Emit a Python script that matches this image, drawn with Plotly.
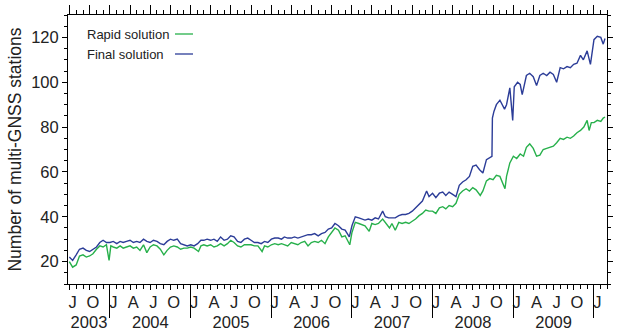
import plotly.graph_objects as go
from datetime import date, timedelta

# ---------------- data ----------------
final_dates = [
    "2003-07-01", "2003-07-16", "2003-08-01", "2003-08-16", "2003-09-01", "2003-09-16",
    "2003-10-01", "2003-10-16", "2003-11-01", "2003-11-16", "2003-12-01", "2003-12-16",
    "2004-01-01", "2004-01-16", "2004-02-01", "2004-02-16", "2004-03-01", "2004-03-16",
    "2004-04-01", "2004-04-16", "2004-05-01", "2004-05-16", "2004-06-01", "2004-06-16",
    "2004-07-01", "2004-07-16", "2004-08-01", "2004-08-16", "2004-09-01", "2004-09-16",
    "2004-10-01", "2004-10-16", "2004-11-01", "2004-11-16", "2004-12-01", "2004-12-16",
    "2005-01-01", "2005-01-16", "2005-02-01", "2005-02-16", "2005-03-01", "2005-03-16",
    "2005-04-01", "2005-04-16", "2005-05-01", "2005-05-16", "2005-06-01", "2005-06-16",
    "2005-07-01", "2005-07-16", "2005-08-01", "2005-08-16", "2005-09-01", "2005-09-16",
    "2005-10-01", "2005-10-16", "2005-11-01", "2005-11-16", "2005-12-01", "2005-12-16",
    "2006-01-01", "2006-01-16", "2006-02-01", "2006-02-16", "2006-03-01", "2006-03-16",
    "2006-04-01", "2006-04-16", "2006-05-01", "2006-05-16", "2006-06-01", "2006-06-16",
    "2006-07-01", "2006-07-16", "2006-08-01", "2006-08-16", "2006-09-01", "2006-09-16",
    "2006-10-01", "2006-10-16", "2006-11-01", "2006-11-16", "2006-12-01", "2006-12-20",
    "2007-01-01", "2007-01-16", "2007-02-01", "2007-02-16", "2007-03-01", "2007-03-16",
    "2007-04-01", "2007-04-16", "2007-05-01", "2007-05-20", "2007-06-01", "2007-06-16",
    "2007-07-01", "2007-07-16", "2007-08-01", "2007-08-16", "2007-09-01", "2007-09-16",
    "2007-10-01", "2007-10-16", "2007-11-01", "2007-11-16", "2007-12-05", "2007-12-16",
    "2008-01-01", "2008-01-16", "2008-02-01", "2008-02-16", "2008-03-01", "2008-03-16",
    "2008-04-01", "2008-04-16", "2008-05-01", "2008-05-16", "2008-06-01", "2008-06-16",
    "2008-07-01", "2008-07-16", "2008-08-01", "2008-08-16", "2008-09-01", "2008-09-16",
    "2008-09-26", "2008-09-28", "2008-10-05", "2008-10-16", "2008-11-01", "2008-11-22",
    "2008-12-01", "2008-12-16", "2008-12-29", "2009-01-05", "2009-01-20", "2009-02-01",
    "2009-02-10", "2009-03-01", "2009-03-16", "2009-04-01", "2009-04-16", "2009-05-01",
    "2009-05-16", "2009-06-01", "2009-06-16", "2009-07-01", "2009-07-16", "2009-08-01",
    "2009-08-16", "2009-09-01", "2009-09-16", "2009-10-01", "2009-10-16", "2009-11-01",
    "2009-11-14", "2009-12-01", "2009-12-16", "2010-01-01", "2010-01-16", "2010-02-01",
    "2010-02-12", "2010-02-20",
]
final_values = [
    22, 20.5, 23, 25.5, 26, 25,
    24.5, 25.5, 26.5, 28.5, 29.5, 28.5,
    28.5, 29, 28, 29, 28.5, 29,
    29.5, 28.5, 29, 28.5, 30, 29,
    28.5, 29.5, 29, 28, 27.5, 29,
    30, 29.5, 30, 28, 27.5, 27,
    27.5, 27, 28, 29.5, 29.5, 30,
    29.5, 30, 29, 31, 29.5, 30,
    31.5, 31, 29, 28.5, 30, 30.5,
    29.5, 28.5, 28.5, 28, 29, 28.5,
    30, 30.5, 30.5, 30, 31, 30.5,
    30.5, 31, 30.5, 31, 31.5, 32,
    32, 32.5, 31.5, 32.5, 33, 34.5,
    35, 37, 36, 34.5, 34, 31,
    36, 40, 39.5, 39, 38.5, 39,
    38.5, 39.5, 39, 42.5, 40, 39.5,
    39.5, 39.5, 40.5, 41, 41, 41.5,
    42.5, 44, 45.5, 47, 51.5, 49,
    50.5, 48.5, 50.5, 51, 49.5, 51,
    50, 49, 54, 55.5, 56.5, 58,
    62.5, 63, 61, 59.5, 65.5, 66.5,
    67, 84, 87, 90, 92, 88,
    90, 97.5, 83, 98, 100, 99,
    94.5, 103, 104, 102.5, 98.5, 103,
    104, 103, 104.5, 103.5, 100, 106.5,
    106, 107, 106.5, 108, 108.5, 112,
    110, 114, 108, 119, 120.5, 120,
    117, 119.5,
]

rapid_dates = [
    "2003-07-01", "2003-07-16", "2003-08-01", "2003-08-16", "2003-09-01", "2003-09-16",
    "2003-10-01", "2003-10-16", "2003-11-01", "2003-11-16", "2003-12-01", "2003-12-16",
    "2003-12-28", "2004-01-05", "2004-01-16", "2004-02-01", "2004-02-16", "2004-03-01",
    "2004-03-16", "2004-04-01", "2004-04-16", "2004-05-01", "2004-05-16", "2004-06-01",
    "2004-06-16", "2004-07-01", "2004-07-16", "2004-08-01", "2004-08-16", "2004-09-01",
    "2004-09-16", "2004-10-01", "2004-10-16", "2004-11-01", "2004-11-16", "2004-12-01",
    "2004-12-16", "2005-01-01", "2005-01-16", "2005-02-05", "2005-02-16", "2005-03-01",
    "2005-03-16", "2005-04-01", "2005-04-16", "2005-05-01", "2005-05-16", "2005-06-01",
    "2005-06-16", "2005-07-01", "2005-07-16", "2005-08-01", "2005-08-16", "2005-09-01",
    "2005-09-16", "2005-10-01", "2005-10-16", "2005-11-01", "2005-11-20", "2005-12-01",
    "2005-12-16", "2006-01-01", "2006-01-16", "2006-02-01", "2006-02-16", "2006-03-01",
    "2006-03-16", "2006-04-01", "2006-04-16", "2006-05-01", "2006-05-16", "2006-06-01",
    "2006-06-16", "2006-07-01", "2006-07-16", "2006-08-01", "2006-08-16", "2006-09-01",
    "2006-09-16", "2006-10-01", "2006-10-16", "2006-11-01", "2006-11-16", "2006-12-01",
    "2006-12-22", "2007-01-01", "2007-01-16", "2007-02-01", "2007-02-16", "2007-03-01",
    "2007-03-20", "2007-04-01", "2007-04-16", "2007-05-01", "2007-05-20", "2007-06-01",
    "2007-06-20", "2007-07-01", "2007-07-16", "2007-08-01", "2007-08-16", "2007-09-01",
    "2007-09-16", "2007-10-01", "2007-10-16", "2007-11-01", "2007-11-16", "2007-12-01",
    "2007-12-16", "2008-01-01", "2008-01-16", "2008-02-01", "2008-02-16", "2008-03-01",
    "2008-03-16", "2008-04-01", "2008-04-16", "2008-05-01", "2008-05-16", "2008-06-01",
    "2008-06-16", "2008-07-01", "2008-07-16", "2008-08-04", "2008-08-16", "2008-09-01",
    "2008-09-16", "2008-10-01", "2008-10-16", "2008-11-01", "2008-11-24", "2008-12-01",
    "2008-12-16", "2009-01-01", "2009-01-16", "2009-02-01", "2009-02-16", "2009-03-01",
    "2009-03-16", "2009-04-01", "2009-04-16", "2009-05-01", "2009-05-16", "2009-06-01",
    "2009-06-16", "2009-07-01", "2009-07-16", "2009-08-01", "2009-08-16", "2009-09-01",
    "2009-09-16", "2009-10-01", "2009-10-16", "2009-11-01", "2009-11-16", "2009-12-01",
    "2009-12-10", "2009-12-20", "2010-01-01", "2010-01-16", "2010-02-01", "2010-02-12",
    "2010-02-20",
]
rapid_values = [
    20, 17.5, 18.5, 22.5, 23, 22,
    22.5, 23.5, 25.5, 27, 26.5, 27.5,
    20.5, 27, 26.5, 26, 27, 26,
    26.5, 27, 26, 26.5, 25, 27.5,
    24, 26.5, 27.5, 27, 25.5, 23,
    25, 26.5, 27, 26.5, 25.5, 26,
    26, 26.5, 26, 24.5, 27, 27.5,
    27, 27.5, 26.5, 27, 28, 27,
    28, 29.5, 28.5, 27, 26.5, 27.5,
    27.5, 27.5, 27, 27, 24.5, 27,
    26.5, 27.5, 28, 27.5, 28, 27.5,
    27, 28.5, 28, 27.5, 28.5, 29,
    27, 28.5, 29, 28.5, 29.5, 28,
    31, 33, 35, 34, 31, 31.5,
    27.5, 33, 37.5, 37, 36.5, 36,
    33.5, 37, 36.5, 37, 39, 37.5,
    35, 37, 34, 37.5, 37, 37.5,
    37, 38, 39, 40.5, 41.5, 43,
    42.5, 42.5, 41.5, 44, 44.5, 43.5,
    45, 44.5, 46, 50, 51.5, 52.5,
    51.5, 53, 52, 49.5, 51.5, 56,
    57, 56.5, 58.5, 58, 52.5, 58,
    64, 67, 66, 68, 67, 71,
    72.5, 70.5, 67, 67.5, 70, 70.5,
    71, 71.5, 73, 75, 74.5, 75.5,
    75, 76, 77.5, 78.5, 80, 83,
    78.5, 82, 82, 83, 82.5, 84,
    84.5,
]
assert len(final_dates) == len(final_values)
assert len(rapid_dates) == len(rapid_values)

series_names = ["Rapid solution", "Final solution"]
month_letters = {1: "J", 4: "A", 7: "J", 10: "O"}
year_labels = ["2003", "2004", "2005", "2006", "2007", "2008", "2009"]
y_title = "Number of multi-GNSS stations"

# ---------------- styling ----------------
GREEN = "#27b04b"
BLUE = "#2c3d98"
FONT = "Liberation Sans, Arial, Helvetica, sans-serif"
X0, X1 = date(2003, 6, 25), date(2010, 3, 1)
xr = [X0.isoformat(), X1.isoformat()]

# month-letter label positions (mid-month) and year label positions
month_pos, month_txt = [], []
for yr in range(2003, 2011):
    for m, letter in month_letters.items():
        d = date(yr, m, 16)
        if X0 <= d <= X1:
            month_pos.append(d.isoformat())
            month_txt.append(letter)
year_pos = []
for lab in year_labels:
    yr = int(lab)
    a = max(date(yr, 1, 1), X0)
    b = min(date(yr + 1, 1, 1), X1)
    year_pos.append((a + (b - a) / 2).isoformat())
year_bounds = [date(yr, 1, 1).isoformat() for yr in range(2004, 2011)]

fig = go.Figure()
fig.add_trace(go.Scatter(x=rapid_dates, y=rapid_values, mode="lines", name=series_names[0],
                         line=dict(color=GREEN, width=1.4), showlegend=False))
fig.add_trace(go.Scatter(x=final_dates, y=final_values, mode="lines", name=series_names[1],
                         line=dict(color=BLUE, width=1.4), showlegend=False))
# empty helper traces so that the extra tick-only axes get drawn
for xa, ya in [("x2", "y"), ("x3", "y"), ("x4", "y"), ("x5", "y"), ("x", "y2")]:
    fig.add_trace(go.Scatter(x=[], y=[], xaxis=xa, yaxis=ya, mode="lines",
                             showlegend=False, hoverinfo="skip"))

base = dict(type="date", range=xr, showgrid=False, zeroline=False, automargin=False,
            tickcolor="black", tickwidth=1)
clear = {**base, "tickcolor": "rgba(0,0,0,0)"}
fig.update_layout(
    width=618, height=331,
    margin=dict(l=68, r=11, t=15, b=47, pad=0),
    paper_bgcolor="white", plot_bgcolor="white",
    font=dict(family=FONT, size=16.5, color="#222"),
    xaxis=dict(**clear, anchor="y", showline=True, linecolor="black", linewidth=1, mirror=True,
               tickmode="array", tickvals=month_pos, ticktext=month_txt,
               ticks="outside", ticklen=3, tickfont=dict(size=16.5)),
    xaxis2=dict(**base, overlaying="x", anchor="y", side="bottom",
                tickmode="linear", tick0="2003-01-01", dtick="M3",
                ticks="outside", ticklen=5, showticklabels=False,
                minor=dict(ticks="outside", dtick="M1", tick0="2003-01-01", ticklen=3.5,
                           tickcolor="black", tickwidth=1)),
    xaxis3=dict(**{**base, "tickwidth": 1.3}, overlaying="x", anchor="y", side="bottom",
                tickmode="array", tickvals=year_bounds, ticks="outside", ticklen=33,
                showticklabels=False),
    xaxis4=dict(**clear, overlaying="x", anchor="y", side="bottom",
                tickmode="array", tickvals=year_pos, ticktext=year_labels,
                ticks="outside", ticklen=23, tickfont=dict(size=16.5)),
    xaxis5=dict(**base, overlaying="x", anchor="y", side="top",
                tickmode="linear", tick0="2003-01-01", dtick="M3",
                ticks="outside", ticklen=9, showticklabels=False,
                minor=dict(ticks="outside", dtick="M1", tick0="2003-01-01", ticklen=4.5,
                           tickcolor="black", tickwidth=1)),
    yaxis=dict(range=[10, 130], tickmode="linear", tick0=0, dtick=20, ticks="outside",
               ticklen=5, tickcolor="black", showgrid=False, zeroline=False,
               showline=True, linecolor="black", linewidth=1, mirror=True, automargin=False,
               minor=dict(ticks="outside", dtick=5, tick0=0, ticklen=3, tickcolor="black"),
               tickfont=dict(size=16.5),
               title=dict(text=y_title, font=dict(size=17.5), standoff=5)),
    yaxis2=dict(range=[10, 130], overlaying="y", anchor="x", side="right",
                tickmode="linear", tick0=0, dtick=20, ticks="outside", ticklen=5,
                tickcolor="black", showgrid=False, zeroline=False, showticklabels=False,
                automargin=False,
                minor=dict(ticks="outside", dtick=5, tick0=0, ticklen=3, tickcolor="black")),
)

# legend: text on the left, line sample on the right
PW, PH, PL, PB = 539, 269, 68, 284
def px(x):
    return (x - PL) / PW
def py(y):
    return (PB - y) / PH
for name, col, yy in [(series_names[0], GREEN, 34), (series_names[1], BLUE, 54)]:
    fig.add_annotation(xref="paper", yref="paper", x=px(85), y=py(yy), text=name,
                       showarrow=False, xanchor="left", yanchor="middle",
                       font=dict(size=13, family=FONT, color="#222"))
    fig.add_shape(type="line", xref="paper", yref="paper", x0=px(175), x1=px(193),
                  y0=py(yy), y1=py(yy), line=dict(color=col, width=1.3))

fig.write_html("out.html", config={"displayModeBar": False},
               post_script="document.body.style.margin='0px';")
